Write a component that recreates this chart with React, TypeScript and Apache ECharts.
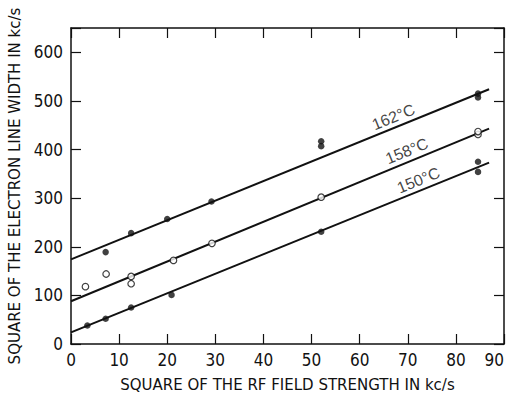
import React, { useEffect, useRef } from "react";
import * as echarts from "echarts";

// Data
const pts162: [number, number][] = [
  [7.2, 189], [12.5, 228], [20.0, 257], [29.2, 293],
  [52.0, 407], [52.0, 417], [84.6, 507], [84.6, 515],
];
const pts158: [number, number][] = [
  [3.0, 118], [7.3, 144], [12.5, 139], [12.5, 124], [21.3, 172],
  [29.3, 207], [52.0, 302], [84.6, 431], [84.6, 437],
];
const pts150: [number, number][] = [
  [3.4, 38], [7.2, 52], [12.5, 75], [20.9, 101],
  [52.0, 231], [84.6, 354], [84.6, 375],
];
const fit162: [number, number][] = [[0, 174], [86.9, 524]];
const fit158: [number, number][] = [[0, 88], [86.9, 443]];
const fit150: [number, number][] = [[0, 24], [86.9, 373]];
const lineLabels: [number, number, string][] = [
  [67, 467, "162°C"],
  [69.8, 397, "158°C"],
  [72.2, 337, "150°C"],
];
const xTitle = "SQUARE OF THE RF FIELD STRENGTH IN kc/s";
const yTitle = "SQUARE OF THE ELECTRON LINE WIDTH IN kc/s";

const INK = "#111";
const TICK_FONT = "'Liberation Sans Narrow', 'DejaVu Sans Condensed', sans-serif";
const TITLE_FONT = "'DejaVu Sans', sans-serif";
const LABEL_FONT = "'Liberation Sans', Arial, sans-serif";

export default function App() {
  const ref = useRef<HTMLDivElement>(null);
  useEffect(() => {
    if (!ref.current) return;
    const chart = echarts.init(ref.current, null, { renderer: "svg" });
    const axisLineStyle = { color: INK, width: 1.5 };
    const tick = { show: true, inside: true, length: 10, lineStyle: { color: INK, width: 1.2 } };
    const fitSeries = (data: [number, number][]) => ({
      type: "line",
      data,
      symbol: "none",
      lineStyle: { color: INK, width: 2 },
      silent: true,
      z: 2,
    });
    chart.setOption({
      animation: false,
      backgroundColor: "#fff",
      grid: { left: 71, right: 7, top: 28, bottom: 57, containLabel: false, outerBoundsMode: "none" },
      xAxis: [
        {
          type: "value",
          min: 0,
          max: 90,
          interval: 10,
          position: "bottom",
          axisLine: { show: true, onZero: false, lineStyle: axisLineStyle },
          axisTick: tick,
          axisLabel: { color: INK, fontFamily: TICK_FONT, fontSize: 17, margin: 7, alignMaxLabel: "right" },
          splitLine: { show: false },
          name: xTitle,
          nameLocation: "middle",
          nameGap: 33,
          nameTextStyle: { color: INK, fontFamily: TITLE_FONT, fontSize: 15 },
        },
        {
          type: "value",
          min: 0,
          max: 90,
          interval: 10,
          position: "top",
          axisLine: { show: true, onZero: false, lineStyle: axisLineStyle },
          axisTick: tick,
          axisLabel: { show: false },
          splitLine: { show: false },
        },
      ],
      yAxis: [
        {
          type: "value",
          min: 0,
          max: 650,
          interval: 100,
          position: "left",
          axisLine: { show: true, onZero: false, lineStyle: axisLineStyle },
          axisTick: tick,
          axisLabel: {
            color: INK,
            fontFamily: TICK_FONT,
            fontSize: 17,
            margin: 8,
            formatter: (v: number) => (v % 100 === 0 ? String(v) : ""),
          },
          splitLine: { show: false },
          name: yTitle,
          nameLocation: "middle",
          nameGap: 46,
          nameTextStyle: { color: INK, fontFamily: TITLE_FONT, fontSize: 15 },
        },
        {
          type: "value",
          min: 0,
          max: 650,
          interval: 100,
          position: "right",
          axisLine: { show: true, onZero: false, lineStyle: axisLineStyle },
          axisTick: tick,
          axisLabel: { show: false },
          splitLine: { show: false },
        },
      ],
      series: [
        fitSeries(fit162),
        fitSeries(fit158),
        fitSeries(fit150),
        {
          type: "scatter",
          data: pts162,
          symbol: "circle",
          symbolSize: 6.5,
          itemStyle: { color: INK },
          z: 3,
        },
        {
          type: "scatter",
          data: pts158,
          symbol: "circle",
          symbolSize: 6.5,
          itemStyle: { color: "#fff", borderColor: INK, borderWidth: 1.2 },
          z: 3,
        },
        {
          type: "scatter",
          data: pts150,
          symbol: "circle",
          symbolSize: 6.5,
          itemStyle: { color: INK },
          z: 3,
        },
        {
          type: "scatter",
          data: lineLabels.map((l) => ({ value: [l[0], l[1]], name: l[2] })),
          symbolSize: 0,
          silent: true,
          label: {
            show: true,
            position: "inside",
            rotate: 22,
            formatter: (p: any) => p.name,
            color: INK,
            textBorderWidth: 0,
            fontFamily: LABEL_FONT,
            fontSize: 16,
          },
          z: 4,
        },
      ],
    });
    return () => chart.dispose();
  }, []);
  return <div ref={ref} style={{ width: 511, height: 401, position: "absolute", left: 0, top: 0 }} />;
}
